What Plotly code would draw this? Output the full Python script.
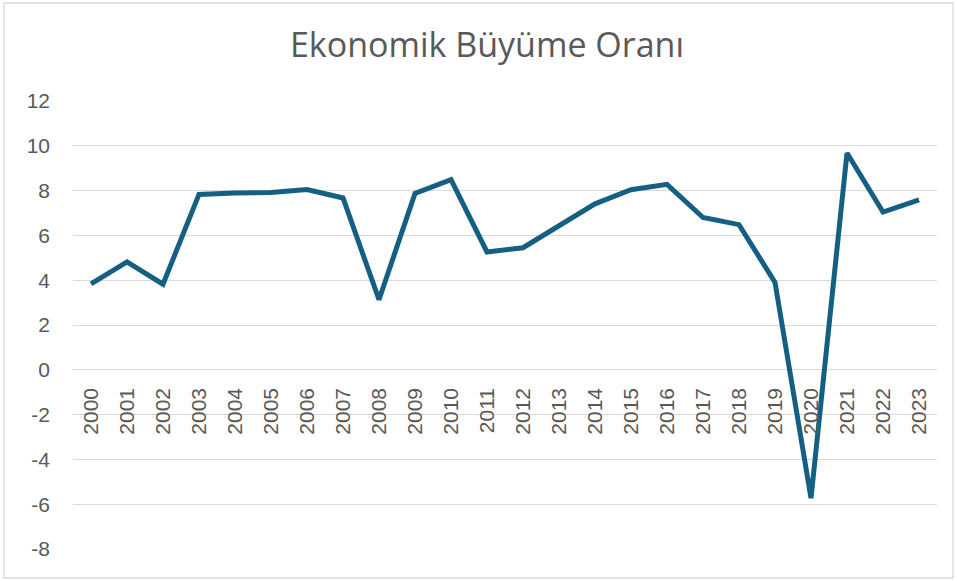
import plotly.graph_objects as go

# Annual economic growth rate (%), 2000-2023
years = [str(y) for y in range(2000, 2024)]
growth = [3.84, 4.82, 3.82, 7.83, 7.89, 7.92, 8.05, 7.67, 3.13, 7.87, 8.49, 5.26,
          5.45, 6.43, 7.41, 8.04, 8.28, 6.80, 6.48, 3.90, -5.73, 9.68, 7.04, 7.59]

y_ticks = list(range(-8, 13, 2))
y_min, y_max = -8, 12

W, H = 957, 581
m_left, m_right, m_top, m_bottom = 73, 20, 101, 32

line_color = "#156082"
text_color = "#595959"
grid_color = "#D9D9D9"

fig = go.Figure()
fig.add_trace(go.Scatter(
    x=years, y=growth, mode="lines",
    line=dict(color=line_color, width=5, shape="linear"),
    hoverinfo="x+y", showlegend=False,
))

# horizontal axis crosses at zero
zero_pos = (0 - y_min) / (y_max - y_min)

fig.update_layout(
    width=W, height=H,
    margin=dict(l=m_left, r=m_right, t=m_top, b=m_bottom),
    paper_bgcolor="white", plot_bgcolor="white",
    title=dict(text="Ekonomik Büyüme Oranı", x=487 / W, xref="container", xanchor="center",
               y=1 - 45 / H, yanchor="middle",
               font=dict(family="Open Sans, sans-serif", size=34, color=text_color)),
    xaxis=dict(
        type="category", range=[-0.5, len(years) - 0.5],
        anchor="free", position=zero_pos,
        tickangle=-90, showgrid=False, showline=False, zeroline=False,
        ticks="", ticklabelstandoff=13,
        tickfont=dict(family="Liberation Sans, Arial, sans-serif", size=21, color=text_color),
    ),
    yaxis=dict(
        range=[y_min, y_max], tickvals=y_ticks, ticktext=[str(v) for v in y_ticks],
        showgrid=True, gridcolor=grid_color, gridwidth=1.3,
        zeroline=False, showline=False, ticks="", ticklabelstandoff=22,
        tickfont=dict(family="Liberation Sans, Arial, sans-serif", size=21, color=text_color),
    ),
)

# chart border
pw = W - m_left - m_right
ph = H - m_top - m_bottom
fig.add_shape(
    type="rect", xref="paper", yref="paper",
    x0=(4 - m_left) / pw, x1=(953 - m_left) / pw,
    y0=(H - m_bottom - 578) / ph, y1=(H - m_bottom - 3) / ph,
    line=dict(color="#D9D9D9", width=1.3), fillcolor="rgba(0,0,0,0)", layer="below",
)

fig.write_html("out.html")
